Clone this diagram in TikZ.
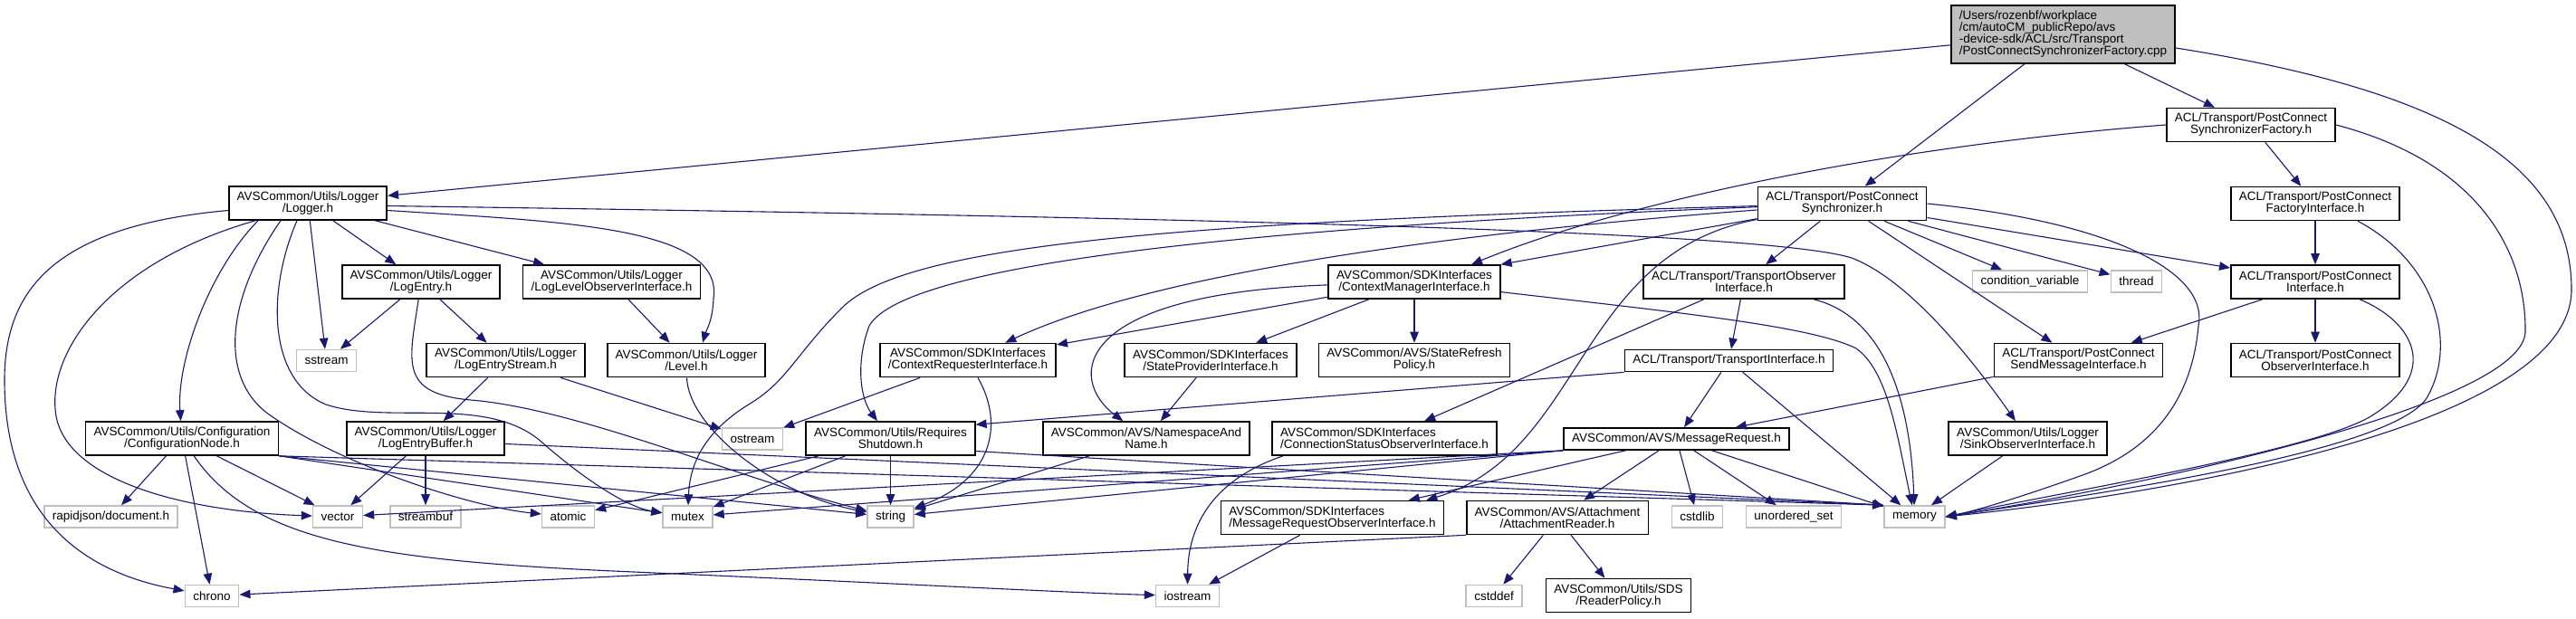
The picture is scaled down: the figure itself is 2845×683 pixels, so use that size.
\documentclass[tikz,border=0pt]{standalone}
\usepackage{fontspec}
\setmainfont{Liberation Sans}
\usetikzlibrary{arrows.meta}
\definecolor{edgeblue}{RGB}{25, 25, 112}
\definecolor{sysgray}{RGB}{191, 191, 191}

\begin{document}
\begin{tikzpicture}[x=1pt, y=-1pt,
    hdr/.style={draw=black, line width=1.6pt, fill=white, inner xsep=9pt, inner ysep=2pt,
                minimum height=37pt, align=center, font=\fontsize{13.5}{13}\selectfont},
    hdrleft/.style={hdr, align=left},
    oneline/.style={hdr, minimum height=24pt},
    sys/.style={oneline, draw=sysgray},
    srcfile/.style={hdr, fill=sysgray, align=left, minimum height=64pt},
    dep/.style={-{Triangle[length=12pt, width=9.5pt]}, edgeblue, line width=1.1pt}
  ]
    \useasboundingbox (0,0) rectangle (2845,683);

    \node[srcfile] (main) at (2278.5, 38) {/Users/rozenbf/workplace\\/cm/autoCM\_publicRepo/avs\\-device-sdk/ACL/src/Transport\\/PostConnectSynchronizerFactory.cpp};
    \node[hdr] (scfact) at (2486, 138) {ACL/Transport/PostConnect\\SynchronizerFactory.h};

    \node[hdr] (logger) at (340, 224.5) {AVSCommon/Utils/Logger\\/Logger.h};
    \node[hdr] (sync) at (2034.5, 225) {ACL/Transport/PostConnect\\Synchronizer.h};
    \node[hdr] (factif) at (2557, 225) {ACL/Transport/PostConnect\\FactoryInterface.h};

    \node[hdr] (logentry) at (465, 311.5) {AVSCommon/Utils/Logger\\/LogEntry.h};
    \node[hdr] (loglevelobs) at (675.5, 311.5) {AVSCommon/Utils/Logger\\/LogLevelObserverInterface.h};
    \node[hdr] (ctxmgr) at (1562, 311.5) {AVSCommon/SDKInterfaces\\/ContextManagerInterface.h};
    \node[hdr] (transobs) at (1926, 311.5) {ACL/Transport/TransportObserver\\Interface.h};
    \node[sys] (condvar) at (2242, 311) {condition\_variable};
    \node[sys] (thread) at (2359.5, 311) {thread};
    \node[hdr] (pcif) at (2557, 311.5) {ACL/Transport/PostConnect\\Interface.h};

    \node[sys] (sstream) at (360.5, 398.5) {sstream};
    \node[hdr] (logstream) at (558.5, 398) {AVSCommon/Utils/Logger\\/LogEntryStream.h};
    \node[hdr] (level) at (758, 398) {AVSCommon/Utils/Logger\\/Level.h};
    \node[hdr] (ctxreq) at (1069, 398) {AVSCommon/SDKInterfaces\\/ContextRequesterInterface.h};
    \node[hdr] (stateprov) at (1337, 398) {AVSCommon/SDKInterfaces\\/StateProviderInterface.h};
    \node[hdr] (refresh) at (1562, 398) {AVSCommon/AVS/StateRefresh\\Policy.h};
    \node[oneline] (transif) at (1909.5, 398.5) {ACL/Transport/TransportInterface.h};
    \node[hdr] (sendmsg) at (2295.5, 398) {ACL/Transport/PostConnect\\SendMessageInterface.h};
    \node[hdr] (pcobs) at (2557, 398) {ACL/Transport/PostConnect\\ObserverInterface.h};

    \node[hdr] (confnode) at (201, 484.5) {AVSCommon/Utils/Configuration\\/ConfigurationNode.h};
    \node[hdr] (logbuf) at (470, 484.5) {AVSCommon/Utils/Logger\\/LogEntryBuffer.h};
    \node[sys] (ostream) at (831, 485) {ostream};
    \node[hdr] (shutdown) at (983.5, 484.5) {AVSCommon/Utils/Requires\\Shutdown.h};
    \node[hdr] (nsname) at (1266, 484.5) {AVSCommon/AVS/NamespaceAnd\\Name.h};
    \node[hdrleft] (connstat) at (1529, 484.5) {AVSCommon/SDKInterfaces\\/ConnectionStatusObserverInterface.h};
    \node[oneline] (msgreq) at (1851.5, 485) {AVSCommon/AVS/MessageRequest.h};
    \node[hdr] (sinkobs) at (2239.5, 484.5) {AVSCommon/Utils/Logger\\/SinkObserverInterface.h};

    \node[sys] (rapidjson) at (122.5, 571) {rapidjson/document.h};
    \node[sys] (vector) at (373, 571) {vector};
    \node[sys] (streambuf) at (470, 571) {streambuf};
    \node[sys] (atomic) at (627.5, 571) {atomic};
    \node[sys] (mutex) at (759.5, 571) {mutex};
    \node[sys] (string) at (983.5, 571) {string};
    \node[hdrleft] (msgobs) at (1471.5, 572) {AVSCommon/SDKInterfaces\\/MessageRequestObserverInterface.h};
    \node[hdr] (attreader) at (1720, 572) {AVSCommon/AVS/Attachment\\/AttachmentReader.h};
    \node[sys] (cstdlib) at (1874.5, 571) {cstdlib};
    \node[sys] (unordset) at (1981, 571) {unordered\_set};
    \node[sys] (memory) at (2114.5, 571) {memory};

    \node[sys] (chrono) at (234, 658.5) {chrono};
    \node[sys] (iostream) at (1311.5, 658.5) {iostream};
    \node[sys] (cstddef) at (1650, 658.5) {cstddef};
    \node[hdr] (readerpol) at (1787.5, 658) {AVSCommon/Utils/SDS\\/ReaderPolicy.h};

    \draw[dep] (main) -- (logger);
    \draw[dep] (main) -- (sync);
    \draw[dep] (main) -- (scfact);
    \draw[dep] ([yshift=-15pt]main.east) .. controls (2700,100) and (2840,180) .. (2840,320) .. controls (2840,470) and (2400,545) .. (memory.east);

    \draw[dep] (scfact) -- (factif);
    \draw[dep] (scfact.west) .. controls (2100,160) and (1800,220) .. ([xshift=63pt]ctxmgr.north);
    \draw[dep] (scfact.east) .. controls (2740,180) and (2790,280) .. (2789,367) .. controls (2785,450) and (2350,540) .. (memory.east);

    \draw[dep] (factif) -- (pcif);
    \draw[dep] ([xshift=47pt]factif.south) .. controls (2690,290) and (2715,380) .. (2680,440) .. controls (2640,500) and (2320,545) .. (memory.east);

    \draw[dep] (pcif) -- (sendmsg);
    \draw[dep] (pcif) -- (pcobs);
    \draw[dep] ([xshift=49pt]pcif.south) .. controls (2665,355) and (2695,410) .. (2623,457) .. controls (2570,495) and (2300,540) .. (memory.east);

    \draw[dep] (sendmsg) -- (msgreq);
    \draw[dep] (sinkobs) -- (memory);

    \draw[dep] (sync) -- (transobs);
    \draw[dep] (sync) -- (condvar);
    \draw[dep] (sync) -- (thread);
    \draw[dep] (sync) -- (pcif);
    \draw[dep] (sync) -- (sendmsg);
    \draw[dep] (sync) -- (ctxmgr.north east);
    \draw[dep] (sync.east) .. controls (2330,245) and (2440,300) .. (2428,360) .. controls (2420,450) and (2370,500) .. (2300,525) .. controls (2230,550) and (2180,565) .. (memory.east);
    \draw[dep] (sync) .. controls (1700,250) and (1300,290) .. (ctxreq);
    \draw[dep] (sync) .. controls (1400,250) and (1000,290) .. (960,360) .. controls (945,400) and (950,440) .. (shutdown);
    \draw[dep] (sync) .. controls (1300,245) and (1000,270) .. (930,340) .. controls (880,390) and (870,420) .. (830,445) .. controls (780,475) and (762,510) .. (mutex);
    \draw[dep] (sync) .. controls (1740,280) and (1750,500) .. ([xshift=-20pt]msgobs.north east);

    \draw[dep] (transobs) -- (transif);
    \draw[dep] (transobs) -- (connstat);
    \draw[dep] (transobs) .. controls (2080,350) and (2110,440) .. (memory);

    \draw[dep] (transif) -- (msgreq);
    \draw[dep] (transif) -- (memory);
    \draw[dep] (transif.south west) -- ([yshift=-4pt]shutdown.north east);

    \draw[dep] (msgreq) -- (msgobs);
    \draw[dep] (msgreq) -- (attreader);
    \draw[dep] (msgreq) -- (cstdlib);
    \draw[dep] (msgreq) -- (unordset);
    \draw[dep] (msgreq) -- (memory);
    \draw[dep] (msgreq.south west) -- (string);
    \draw[dep] (msgreq.south west) -- (mutex);
    \draw[dep] (msgreq.south west) -- (vector);

    \draw[dep] (ctxmgr) -- (ctxreq);
    \draw[dep] (ctxmgr) -- (stateprov);
    \draw[dep] (ctxmgr) -- (refresh);
    \draw[dep] (ctxmgr) .. controls (1180,325) and (1180,420) .. (nsname);
    \draw[dep] (ctxmgr) .. controls (1850,345) and (2000,360) .. (2050,385) .. controls (2085,410) and (2095,480) .. (memory);

    \draw[dep] (ctxreq) -- (ostream);
    \draw[dep] (ctxreq) .. controls (1110,470) and (1095,530) .. (string);
    \draw[dep] (stateprov) -- (nsname);
    \draw[dep] (nsname) -- (string);

    \draw[dep] (shutdown) -- (string);
    \draw[dep] (shutdown) -- (mutex);
    \draw[dep] (shutdown) -- (atomic);
    \draw[dep] ([yshift=-14pt]shutdown.east) -- (memory.north west);

    \draw[dep] ([yshift=-8pt]logger.west) .. controls (60,250) and (5,320) .. (5,420) .. controls (5,560) and (80,630) .. (chrono);
    \draw[dep] ([xshift=-58pt]logger.south) .. controls (120,290) and (50,390) .. (62,460) .. controls (75,530) and (200,565) .. (vector);
    \draw[dep] ([xshift=-55pt]logger.south) .. controls (230,300) and (195,400) .. (confnode);
    \draw[dep] ([xshift=-30pt]logger.south) .. controls (250,330) and (240,420) .. (300,460) .. controls (380,515) and (520,560) .. (atomic);
    \draw[dep] ([xshift=-12pt]logger.south) .. controls (295,320) and (295,420) .. (360,447) .. controls (430,470) and (540,435) .. (600,490) .. controls (640,525) and (690,560) .. (mutex);
    \draw[dep] (logger) -- (sstream);
    \draw[dep] (logger) -- (logentry);
    \draw[dep] (logger) -- (loglevelobs);
    \draw[dep] ([yshift=-8pt]logger.east) .. controls (620,245) and (800,250) .. (788,330) .. controls (787,355) and (780,365) .. ([xshift=18pt]level.north);
    \draw[dep] ([yshift=-3pt]logger.east) .. controls (1300,240) and (1950,255) .. (2045,285) .. controls (2110,310) and (2180,400) .. (sinkobs);

    \draw[dep] (logentry) -- (sstream);
    \draw[dep] (logentry) -- (logstream);
    \draw[dep] (logentry) .. controls (452,400) and (440,435) .. (520,442) .. controls (640,452) and (820,530) .. (string);
    \draw[dep] (loglevelobs) -- (level);
    \draw[dep] (logstream) -- (logbuf);
    \draw[dep] (logstream) -- (ostream);
    \draw[dep] (level) .. controls (760,470) and (850,545) .. (string);

    \draw[dep] (logbuf) -- (vector);
    \draw[dep] (logbuf) -- (streambuf);
    \draw[dep] ([yshift=-6pt]logbuf.east) -- (memory.north west);

    \draw[dep] (confnode) -- (rapidjson);
    \draw[dep] (confnode) -- (chrono);
    \draw[dep] (confnode) -- (vector);
    \draw[dep] (confnode) .. controls (280,600) and (420,620) .. (700,632) .. controls (1000,645) and (1180,655) .. (iostream);
    \draw[dep] (confnode.south east) -- (mutex);
    \draw[dep] (confnode.south east) -- (string);
    \draw[dep] (confnode.south east) -- (memory.north west);

    \draw[dep] ([xshift=-112pt]connstat.south) .. controls (1340,530) and (1312,580) .. (iostream);
    \draw[dep] (msgobs) -- (iostream);

    \draw[dep] (attreader) -- (cstddef);
    \draw[dep] (attreader) -- (readerpol);
    \draw[dep] (attreader.south west) -- (chrono);
  \end{tikzpicture}
\end{document}
